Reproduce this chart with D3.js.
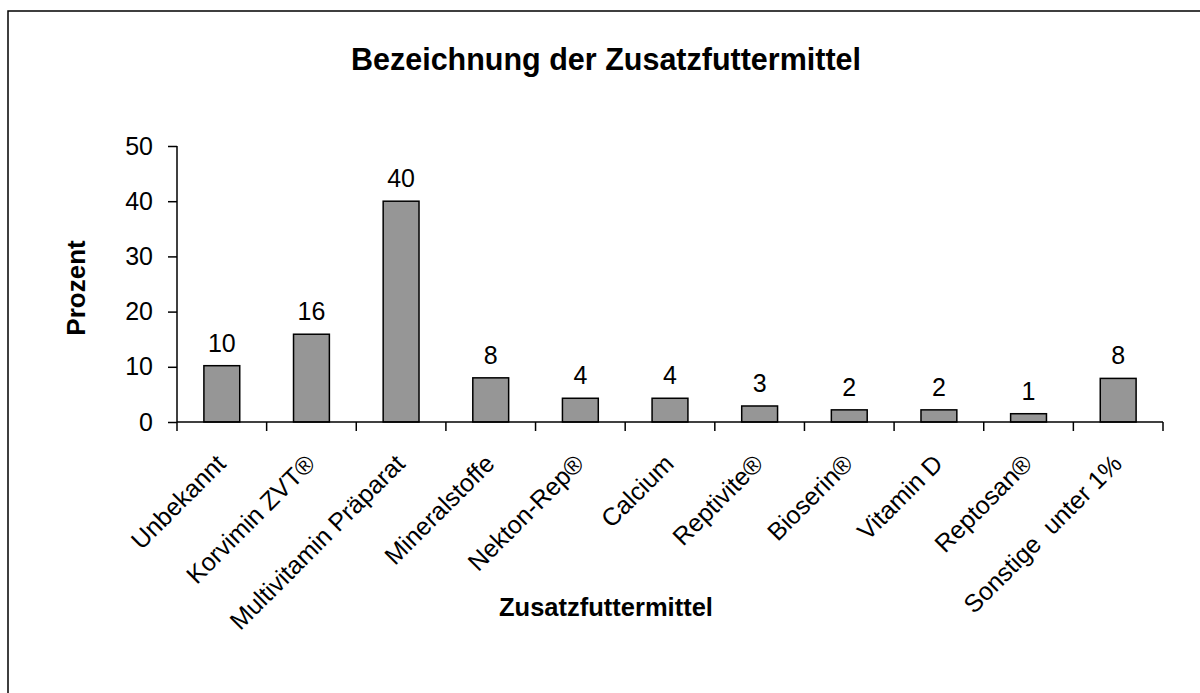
<!DOCTYPE html>
<html lang="de">
<head>
  <meta charset="UTF-8">
  <script src="https://d3js.org/d3.v7.min.js"></script>
  <style>
    body {
      margin: 0;
      padding: 0;
      overflow: hidden;
      background: #fff;
      font-family: Arial, "Liberation Sans", sans-serif;
    }
  </style>
</head>
<body>
  <script>
    // chart data
    const categories = ['Unbekannt', 'Korvimin ZVT®', 'Multivitamin Präparat', 'Mineralstoffe', 'Nekton-Rep®',
      'Calcium', 'Reptivite®', 'Bioserin®', 'Vitamin D', 'Reptosan®', 'Sonstige  unter 1%'];
    const values = [10.2, 15.9, 40, 8, 4.3, 4.3, 2.9, 2.2, 2.2, 1.5, 7.9];
    const valueLabels = ['10', '16', '40', '8', '4', '4', '3', '2', '2', '1', '8'];
    const yTicks = [0, 10, 20, 30, 40, 50];

    const width = 1200, height = 693;
    const plotLeft = 177, plotRight = 1163, plotTop = 146, plotBottom = 422;
    const fontSize = 25;

    const svg = d3.select('body').append('svg')
      .attr('width', width)
      .attr('height', height);

    svg.append('rect')
      .attr('width', width).attr('height', height)
      .attr('fill', '#fff');

    // outer frame (only left and top edges are inside the picture)
    svg.append('rect')
      .attr('x', 8).attr('y', 11)
      .attr('width', 1300).attr('height', 800)
      .attr('fill', 'none')
      .attr('stroke', '#000')
      .attr('stroke-width', 1.5);

    const x = d3.scaleBand()
      .domain(categories)
      .range([plotLeft, plotRight])
      .paddingInner(0.6)
      .paddingOuter(0.3);

    const y = d3.scaleLinear()
      .domain([0, 50])
      .range([plotBottom, plotTop]);

    // title
    svg.append('text')
      .attr('x', 606).attr('y', 70)
      .attr('text-anchor', 'middle')
      .attr('font-size', 30.5)
      .attr('font-weight', 'bold')
      .text('Bezeichnung der Zusatzfuttermittel');

    // bars
    svg.append('g')
      .selectAll('rect')
      .data(values)
      .join('rect')
      .attr('x', (d, i) => x(categories[i]))
      .attr('y', d => y(d))
      .attr('width', x.bandwidth())
      .attr('height', d => y(0) - y(d))
      .attr('fill', '#969696')
      .attr('stroke', '#000')
      .attr('stroke-width', 1.5);

    // value labels
    svg.append('g')
      .selectAll('text')
      .data(values)
      .join('text')
      .attr('x', (d, i) => x(categories[i]) + x.bandwidth() / 2)
      .attr('y', d => y(d) - 14)
      .attr('text-anchor', 'middle')
      .attr('font-size', fontSize)
      .text((d, i) => valueLabels[i]);

    // y axis
    const yAxis = svg.append('g')
      .attr('transform', `translate(${plotLeft},0)`)
      .call(d3.axisLeft(y).tickValues(yTicks).tickSize(9).tickPadding(15));
    yAxis.selectAll('path, line').attr('stroke', '#000').attr('stroke-width', 1.5);
    yAxis.select('.domain').attr('d', `M0,${plotTop}V${plotBottom}`);
    yAxis.selectAll('text')
      .attr('font-size', fontSize)
      .attr('font-family', 'Arial, "Liberation Sans", sans-serif')
      .attr('fill', '#000');

    // x axis: line plus ticks between categories
    const xAxis = svg.append('g')
      .attr('transform', `translate(0,${plotBottom})`)
      .call(d3.axisBottom(x).tickSize(0).tickFormat(''));
    xAxis.select('.domain').attr('d', `M${plotLeft},0H${plotRight}`)
      .attr('stroke', '#000').attr('stroke-width', 1.5);

    const bounds = d3.range(categories.length + 1).map(i => plotLeft + i * x.step());
    xAxis.selectAll('line.sep')
      .data(bounds)
      .join('line')
      .attr('class', 'sep')
      .attr('x1', d => d).attr('x2', d => d)
      .attr('y1', 0).attr('y2', 9)
      .attr('stroke', '#000')
      .attr('stroke-width', 1.5);

    // rotated category labels
    svg.append('g')
      .selectAll('text')
      .data(categories)
      .join('text')
      .attr('transform', d => `translate(${x(d) + x.bandwidth() / 2 - 8},452) rotate(-45)`)
      .attr('text-anchor', 'end')
      .attr('dy', '0.75em')
      .attr('font-size', fontSize)
      .style('white-space', 'pre')
      .text(d => d);

    // axis titles
    svg.append('text')
      .attr('x', 606).attr('y', 616)
      .attr('text-anchor', 'middle')
      .attr('font-size', 25.5)
      .attr('font-weight', 'bold')
      .text('Zusatzfuttermittel');

    svg.append('text')
      .attr('transform', 'translate(85,288) rotate(-90)')
      .attr('text-anchor', 'middle')
      .attr('font-size', 26)
      .attr('font-weight', 'bold')
      .text('Prozent');
  </script>
</body>
</html>
